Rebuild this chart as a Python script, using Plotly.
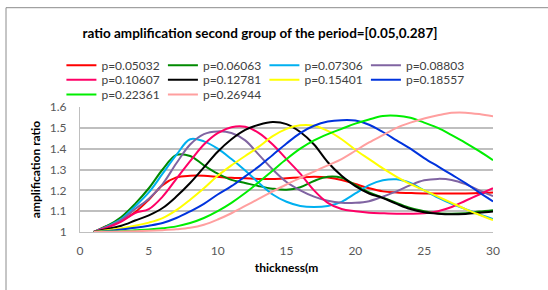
import plotly.graph_objects as go

thickness = list(range(1, 31))

series_names = ["p=0.05032", "p=0.06063", "p=0.07306", "p=0.08803", "p=0.10607",
                "p=0.12781", "p=0.15401", "p=0.18557", "p=0.22361", "p=0.26944"]

p_05032 = [1.0, 1.03, 1.055, 1.095, 1.155, 1.225, 1.262, 1.27, 1.27, 1.265, 1.26, 1.258, 1.255, 1.255, 1.258,
           1.262, 1.265, 1.262, 1.25, 1.23, 1.21, 1.195, 1.19, 1.187, 1.185, 1.185, 1.185, 1.185, 1.187, 1.19]
p_06063 = [1.0, 1.03, 1.072, 1.135, 1.21, 1.30, 1.37, 1.365, 1.32, 1.28, 1.25, 1.235, 1.22, 1.208, 1.203,
           1.215, 1.245, 1.265, 1.26, 1.225, 1.19, 1.165, 1.14, 1.115, 1.10, 1.09, 1.088, 1.09, 1.098, 1.105]
p_07306 = [1.0, 1.028, 1.062, 1.123, 1.19, 1.28, 1.37, 1.445, 1.435, 1.40, 1.35, 1.295, 1.235, 1.18, 1.145,
           1.125, 1.12, 1.125, 1.145, 1.185, 1.225, 1.248, 1.253, 1.235, 1.2, 1.165, 1.135, 1.11, 1.085, 1.062]
p_08803 = [1.0, 1.025, 1.058, 1.11, 1.16, 1.23, 1.33, 1.42, 1.47, 1.483, 1.475, 1.44, 1.37, 1.30, 1.24,
           1.20, 1.17, 1.15, 1.14, 1.14, 1.148, 1.17, 1.195, 1.225, 1.248, 1.255, 1.25, 1.23, 1.2, 1.172]
p_10607 = [1.0, 1.022, 1.05, 1.091, 1.11, 1.17, 1.255, 1.34, 1.42, 1.475, 1.503, 1.505, 1.475, 1.42, 1.35,
           1.28, 1.20, 1.14, 1.11, 1.10, 1.093, 1.09, 1.088, 1.088, 1.09, 1.10, 1.12, 1.15, 1.18, 1.21]
p_12781 = [1.0, 1.015, 1.03, 1.055, 1.08, 1.115, 1.17, 1.235, 1.31, 1.385, 1.445, 1.49, 1.515, 1.528, 1.518,
           1.48, 1.42, 1.335, 1.27, 1.22, 1.185, 1.163, 1.135, 1.11, 1.095, 1.088, 1.085, 1.087, 1.092, 1.098]
p_15401 = [1.0, 1.008, 1.018, 1.03, 1.045, 1.067, 1.105, 1.155, 1.21, 1.27, 1.32, 1.365, 1.41, 1.46, 1.495,
           1.512, 1.51, 1.485, 1.445, 1.395, 1.35, 1.305, 1.265, 1.23, 1.20, 1.17, 1.14, 1.11, 1.083, 1.057]
p_18557 = [1.0, 1.005, 1.012, 1.02, 1.03, 1.043, 1.067, 1.099, 1.135, 1.18, 1.22, 1.267, 1.315, 1.37, 1.425,
           1.475, 1.51, 1.53, 1.537, 1.535, 1.515, 1.48, 1.44, 1.40, 1.355, 1.315, 1.275, 1.235, 1.19, 1.147]
p_22361 = [1.0, 1.002, 1.004, 1.008, 1.012, 1.018, 1.027, 1.043, 1.067, 1.10, 1.14, 1.187, 1.24, 1.295, 1.35,
           1.40, 1.44, 1.47, 1.495, 1.52, 1.54, 1.557, 1.558, 1.548, 1.525, 1.50, 1.465, 1.428, 1.388, 1.345]
p_26944 = [1.0, 1.001, 1.002, 1.004, 1.006, 1.009, 1.013, 1.02, 1.035, 1.06, 1.09, 1.125, 1.16, 1.195, 1.228,
           1.26, 1.29, 1.32, 1.35, 1.39, 1.43, 1.465, 1.50, 1.525, 1.545, 1.56, 1.572, 1.573, 1.566, 1.555]

series_values = [p_05032, p_06063, p_07306, p_08803, p_10607,
                 p_12781, p_15401, p_18557, p_22361, p_26944]

colors = ["#FF0000", "#008A00", "#00B0F0", "#8064A2", "#FF0066",
          "#000000", "#FFFF00", "#0033DD", "#00EE00", "#FF9F9F"]

x_ticks = [0, 5, 10, 15, 20, 25, 30]
y_ticks = [1, 1.1, 1.2, 1.3, 1.4, 1.5, 1.6]

legend_ids = ["legend", "legend", "legend", "legend",
              "legend2", "legend2", "legend2", "legend2",
              "legend3", "legend3"]

fig = go.Figure()
for name, vals, col, lg in zip(series_names, series_values, colors, legend_ids):
    fig.add_trace(go.Scatter(
        x=thickness, y=vals, name=name, mode="lines", legend=lg,
        line=dict(color=col, width=2, shape="spline", smoothing=1.0),
    ))

FONT = "Lato"
leg_common = dict(orientation="h", x=-0.045, xanchor="left", yanchor="top",
                  entrywidth=56.5, entrywidthmode="pixels",
                  font=dict(family=FONT, size=12, color="#404040"),
                  bgcolor="rgba(0,0,0,0)")

fig.update_layout(
    width=548, height=290,
    margin=dict(l=80, r=55, t=107, b=58),
    paper_bgcolor="white", plot_bgcolor="white",
    font=dict(family=FONT, size=12, color="#404040"),
    title=dict(text="<b>ratio amplification second group of the period=[0.05,0.287]</b>",
               x=0.4745, xanchor="center", y=0.886, yanchor="middle",
               font=dict(family=FONT, size=13.5, color="#000000")),
    legend=dict(y=1.45, **leg_common),
    legend2=dict(y=1.334, **leg_common),
    legend3=dict(y=1.216, **leg_common),
    showlegend=True,
)
fig.update_xaxes(range=[0, 30], tickvals=x_ticks, showgrid=False, zeroline=False,
                 showline=True, linecolor="#BFBFBF", linewidth=1, automargin=False,
                 ticks="", ticklabelstandoff=8,
                 tickfont=dict(family=FONT, size=12, color="#595959"),
                 title=dict(text="<b>thickness(m</b>", standoff=6,
                            font=dict(family=FONT, size=12, color="#000000")))
fig.update_yaxes(range=[1, 1.6], tickvals=y_ticks, showgrid=True, gridcolor="#BFBFBF", gridwidth=1.5,
                 zeroline=False, showline=True, linecolor="#BFBFBF", linewidth=1, automargin=False,
                 ticks="", ticklabelstandoff=10,
                 tickfont=dict(family=FONT, size=12, color="#595959"),
                 title=dict(text="<b>amplification ratio</b>", standoff=6,
                            font=dict(family=FONT, size=12, color="#000000")))

# chart-area border (left and top edges visible)
fig.add_shape(type="rect", xref="paper", yref="paper",
              x0=(6 - 80) / 413, x1=1.3, y0=-1.0, y1=(232.3 - 8) / 125,
              line=dict(color="#8C8C8C", width=1), fillcolor="rgba(0,0,0,0)", layer="below")

fig.write_html("out.html", config={"displayModeBar": False},
               post_script="document.body.style.margin='0';")
